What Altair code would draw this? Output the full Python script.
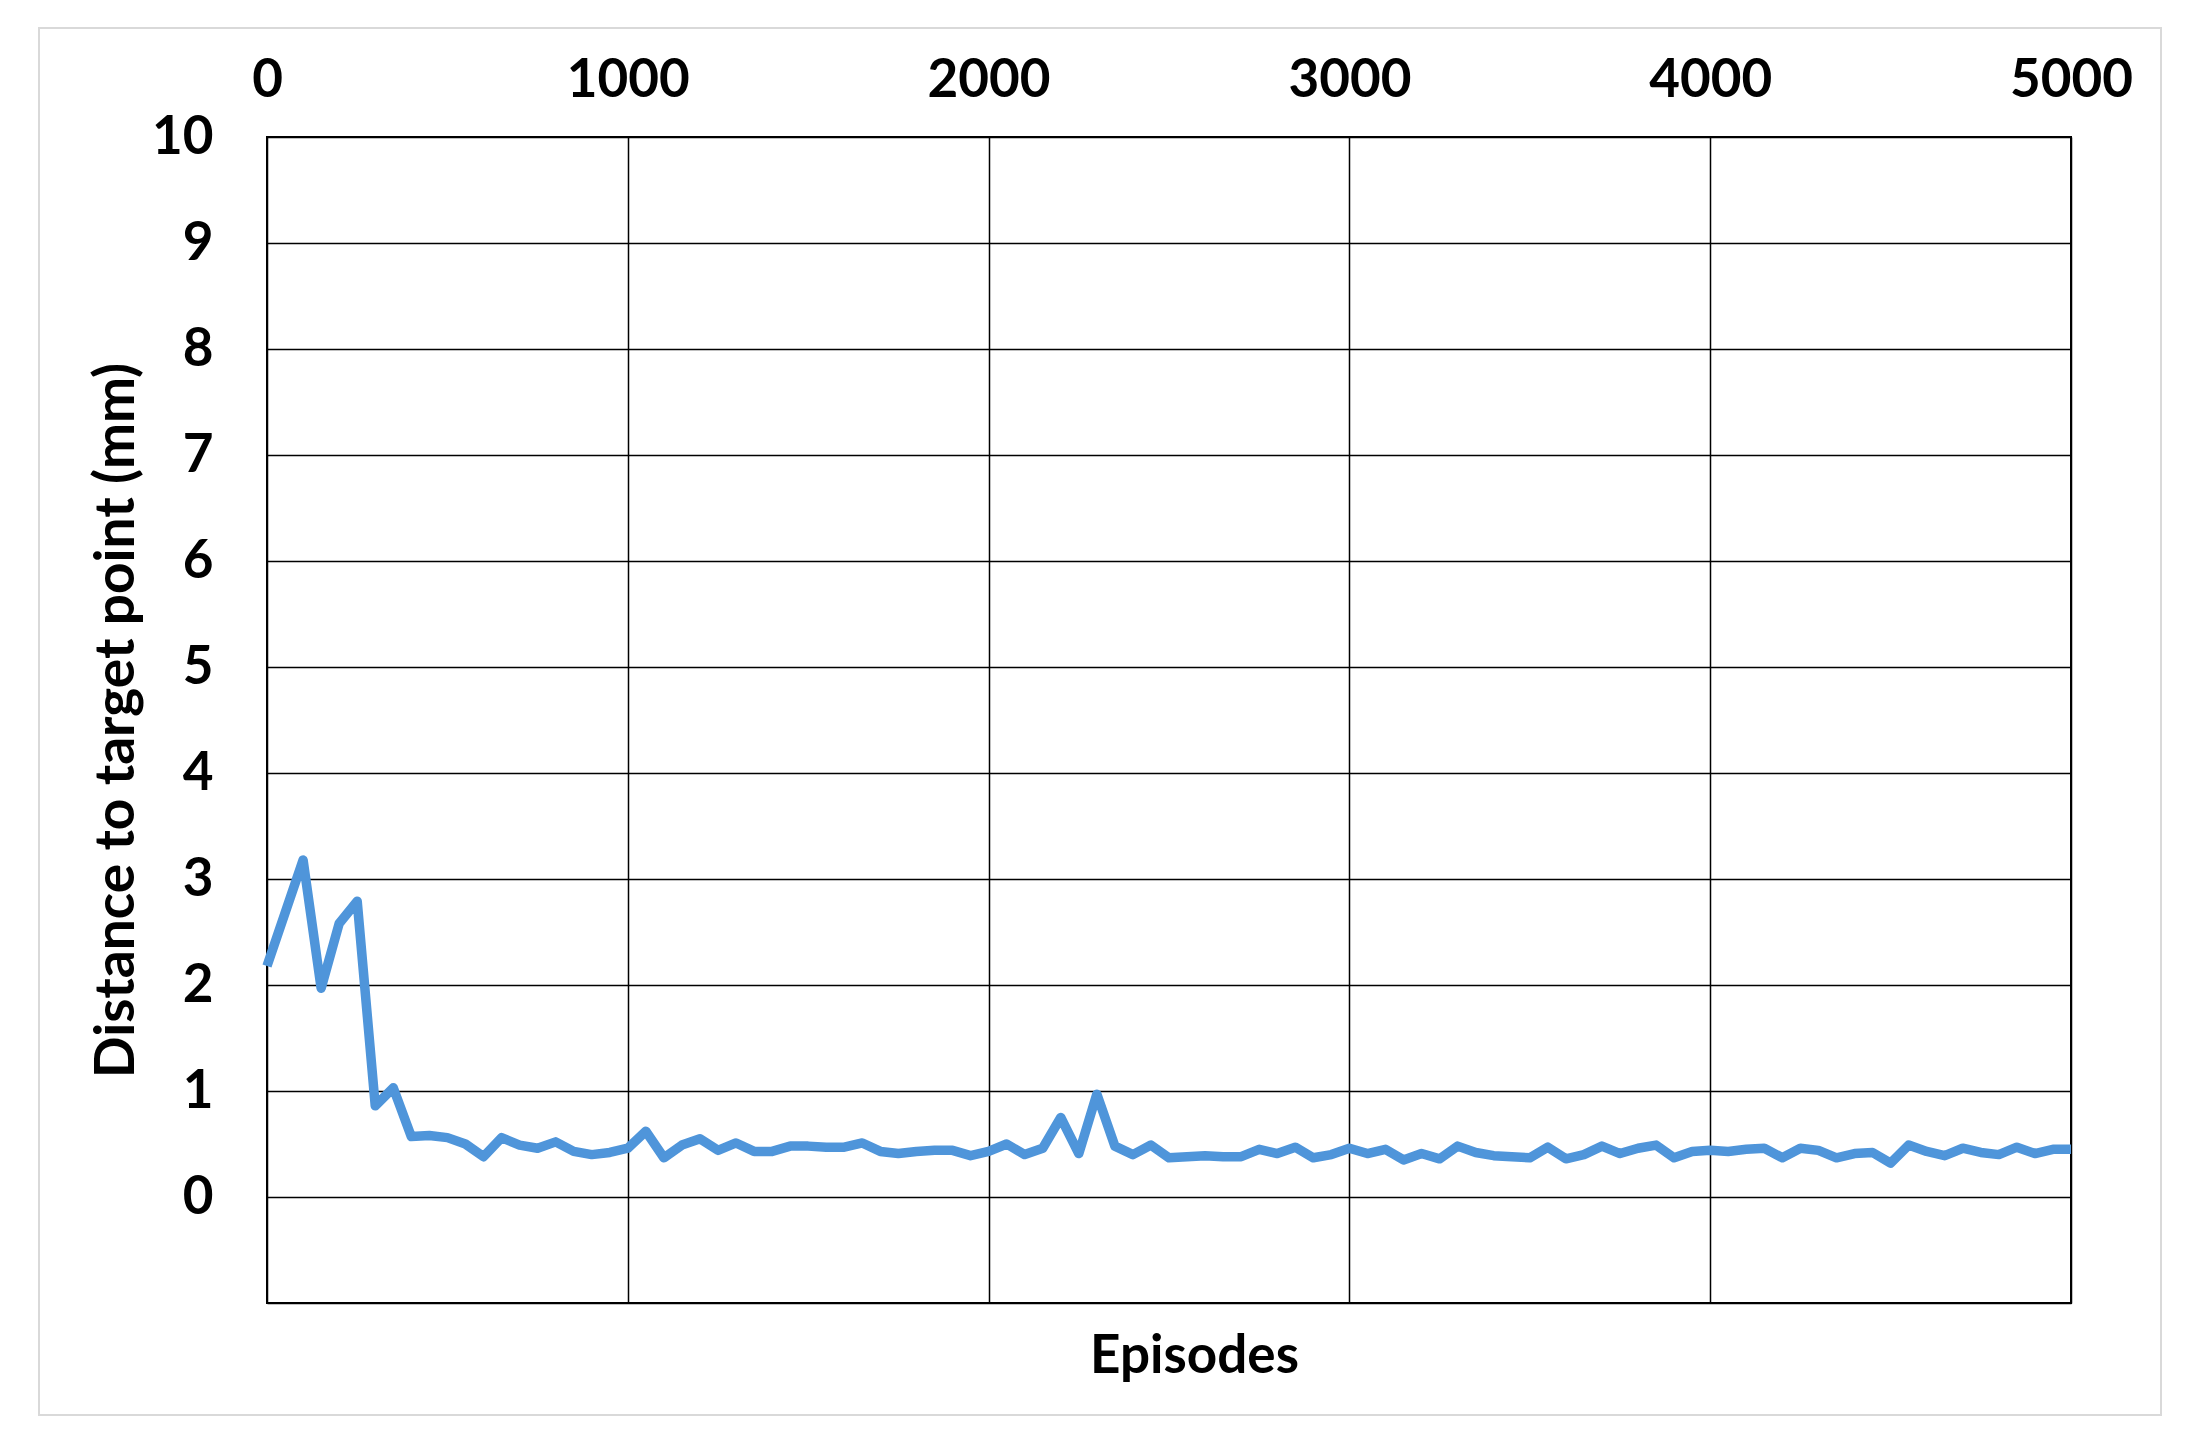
import altair as alt
import pandas as pd

episodes = list(range(0, 5001, 50))
distance = [
    2.18, 2.68, 3.18, 1.97, 2.58, 2.79, 0.86, 1.03, 0.57, 0.58,
    0.56, 0.50, 0.38, 0.56, 0.49, 0.46, 0.52, 0.43, 0.40, 0.42,
    0.46, 0.62, 0.37, 0.49, 0.55, 0.44, 0.51, 0.43, 0.43, 0.48,
    0.48, 0.47, 0.47, 0.51, 0.43, 0.41, 0.43, 0.44, 0.44, 0.39,
    0.43, 0.50, 0.40, 0.46, 0.75, 0.41, 0.97, 0.48, 0.40, 0.49,
    0.37, 0.38, 0.39, 0.38, 0.38, 0.45, 0.41, 0.47, 0.37, 0.40,
    0.46, 0.41, 0.45, 0.35, 0.41, 0.36, 0.48, 0.42, 0.39, 0.38,
    0.37, 0.47, 0.36, 0.40, 0.48, 0.41, 0.46, 0.49, 0.37, 0.43,
    0.44, 0.43, 0.45, 0.46, 0.37, 0.46, 0.44, 0.37, 0.41, 0.42,
    0.32, 0.49, 0.43, 0.39, 0.46, 0.42, 0.40, 0.47, 0.41, 0.45,
    0.45,
]
x_ticks = [0, 1000, 2000, 3000, 4000, 5000]
y_ticks = list(range(-1, 11))

df = pd.DataFrame({"Episodes": episodes, "Distance": distance})

FONT = "Lato"

frame = alt.Chart(pd.DataFrame({"a": [0]})).mark_rect(
    fill=None, stroke="#d9d9d9", strokeWidth=2, clip=False
).encode(
    x=alt.value(-228), x2=alt.value(1894),
    y=alt.value(-109), y2=alt.value(1278),
)

line = alt.Chart(df).mark_line(
    color="#4f95da", strokeWidth=9.5, strokeJoin="round", strokeCap="butt"
).encode(
    x=alt.X(
        "Episodes:Q",
        scale=alt.Scale(domain=[0, 5000], nice=False),
        axis=alt.Axis(
            orient="top", values=x_ticks, format="d", title="Episodes",
            labelFont=FONT, labelFontSize=53, labelFontWeight="bold",
            labelColor="black", labelBaseline="alphabetic", labelPadding=41,
            labelFlush=False, labelOverlap=False,
            tickSize=0, domain=False,
            grid=True, gridColor="black", gridWidth=1.5, gridOpacity=1,
            titleFont=FONT, titleFontSize=53, titleFontWeight="bold",
            titleColor="black", titleX=927, titleY=1235,
            titleAlign="center", titleBaseline="alphabetic",
        ),
    ),
    y=alt.Y(
        "Distance:Q",
        scale=alt.Scale(domain=[-1, 10], nice=False),
        axis=alt.Axis(
            values=y_ticks, title="Distance to target point (mm)",
            labelExpr="datum.value < 0 ? '' : datum.label",
            labelFont=FONT, labelFontSize=53, labelFontWeight="bold",
            labelColor="black", labelPadding=54, labelAlign="right",
            labelBaseline="middle", labelFlush=False, labelOverlap=False,
            tickSize=0, domain=False,
            grid=True, gridColor="black", gridWidth=1.5, gridOpacity=1,
            titleFont=FONT, titleFontSize=55, titleFontWeight="bold",
            titleColor="black", titleAngle=-90, titleX=-134, titleY=583,
            titleAlign="center", titleBaseline="alphabetic",
        ),
    ),
)

chart = alt.layer(frame, line).properties(
    width=1804, height=1166,
    autosize=alt.AutoSizeParams(type="none"),
    padding={"left": 259, "top": 129, "right": 110, "bottom": 120},
    background="white",
).configure_view(stroke="black", strokeWidth=2)

chart.save("out.html", embed_options={"renderer": "svg", "actions": False})
